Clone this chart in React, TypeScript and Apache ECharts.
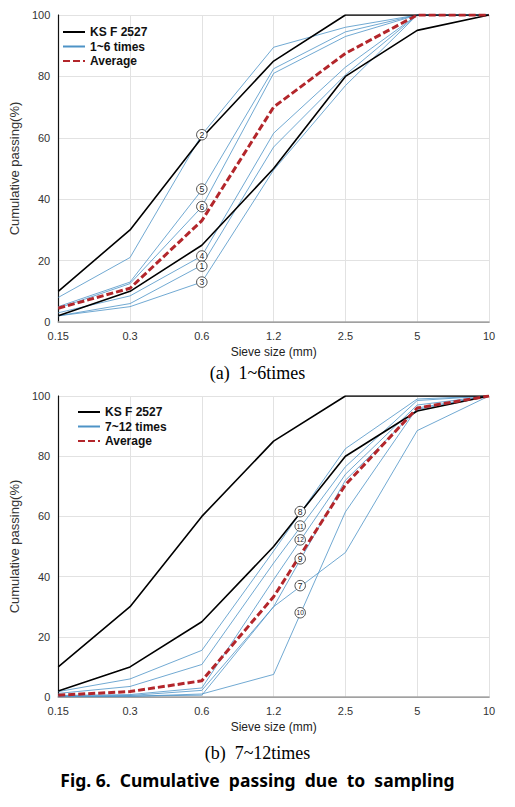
import React, { useEffect, useRef } from 'react';
import * as echarts from 'echarts';

// ---- data ----
const sieveSizes = ['0.15', '0.3', '0.6', '1.2', '2.5', '5', '10'];
const ksLower = [2, 10, 25, 50, 80, 95, 100];
const ksUpper = [10, 30, 60, 85, 100, 100, 100];

// (a) samples 1~6 (order: ②, ⑤, ⑥, ④, ①, ③)
const sample2 = [8, 21, 61, 89.5, 96, 100, 100];
const sample5 = [5, 13, 43, 82.5, 94.5, 100, 100];
const sample6 = [4.5, 12.5, 37.5, 81, 93, 100, 100];
const sample4 = [3, 8.5, 21.5, 61.5, 83, 100, 100];
const sample1 = [2, 6, 18.5, 57, 80.5, 100, 100];
const sample3 = [2, 5, 13, 49.5, 77, 100, 100];
const topAverage = [4.5, 11, 33, 70, 87.5, 100, 100];

// (b) samples 7~12
const sample8 = [1.8, 6, 15.5, 48.5, 82.5, 99, 100];
const sample11 = [1.2, 3.5, 10.8, 44.5, 76.5, 98.5, 100];
const sample12 = [0.5, 0.8, 3, 39, 74, 97, 100];
const sample9 = [0.3, 0.5, 2.2, 30, 72, 95.5, 100];
const sample7 = [0.2, 0.3, 0.6, 30, 48, 88.5, 100];
const sample10 = [0.1, 0.2, 1, 7.5, 61.5, 96, 100];
const bottomAverage = [0.6, 1.8, 5.4, 33.3, 70.5, 96, 100];

// circled tags (position in axis units)
const topTagNums = ['2', '5', '6', '4', '1', '3'];
const topTagX = [2, 2, 2, 2, 2, 2];
const topTagY = [61, 43.3, 37.6, 21.5, 18.2, 13];
const bottomTagNums = ['8', '11', '12', '9', '7', '10'];
const bottomTagX = [3.37, 3.37, 3.37, 3.37, 3.37, 3.37];
const bottomTagY = [61.6, 56.8, 52.2, 45.9, 37, 28];

const topSamples = [sample2, sample5, sample6, sample4, sample1, sample3];
const bottomSamples = [sample8, sample11, sample12, sample9, sample7, sample10];

const BLUE = '#4d93c6';
const RED = '#b3262b';
const FONT = 'Liberation Sans';

const toPts = (arr: number[]) => arr.map((v, i) => [i, v]);

function lineSeries(name: string, data: number[], idx: number, style: any, z = 2) {
  return {
    type: 'line',
    name,
    xAxisIndex: idx * 2,
    yAxisIndex: idx * 2,
    data: toPts(data),
    symbol: 'none',
    showSymbol: false,
    lineStyle: style,
    itemStyle: { color: style.color },
    z,
  };
}

function tagSeries(idx: number, xs: number[], ys: number[], nums: string[]) {
  return {
    type: 'scatter',
    name: 'tags' + idx,
    xAxisIndex: idx * 2,
    yAxisIndex: idx * 2,
    symbol: 'circle',
    symbolSize: 10.5,
    z: 10,
    itemStyle: { color: '#ffffff', borderColor: '#222', borderWidth: 0.8, opacity: 1 },
    label: {
      show: true,
      position: 'inside',
      color: '#222',
      fontFamily: FONT,
      formatter: (p: any) => p.value[2],
    },
    data: xs.map((x, i) => ({
      value: [x, ys[i], nums[i]],
      label: { fontSize: nums[i].length > 1 ? 6.5 : 8.5 },
    })),
  };
}

function axesFor(idx: number) {
  const xMain = {
    type: 'value',
    gridIndex: idx,
    min: 0,
    max: 6,
    interval: 1,
    name: 'Sieve size (mm)',
    nameLocation: 'middle',
    nameGap: 24,
    nameTextStyle: { fontSize: 12, color: '#222', fontFamily: FONT },
    axisLine: { show: true, lineStyle: { color: '#8c8c8c', width: 1 } },
    axisTick: { show: false },
    axisLabel: {
      fontSize: 11,
      color: '#333',
      fontFamily: FONT,
      margin: 8,
      formatter: (v: number) => sieveSizes[v] ?? '',
    },
    splitLine: { show: true, lineStyle: { color: '#e2e2e2', width: 1 } },
  };
  const xTop = {
    type: 'value',
    gridIndex: idx,
    position: 'top',
    min: 0,
    max: 6,
    interval: 1,
    axisLine: { show: true, lineStyle: { color: '#a8a8a8', width: 1.5 } },
    axisTick: { show: false },
    axisLabel: { show: false },
    splitLine: { show: false },
  };
  const yMain = {
    type: 'value',
    gridIndex: idx,
    min: 0,
    max: 100,
    interval: 20,
    name: 'Cumulative passing(%)',
    nameLocation: 'middle',
    nameGap: 29,
    nameRotate: 90,
    nameTextStyle: { fontSize: 13, color: '#333', fontFamily: FONT },
    axisLine: { show: true, lineStyle: { color: '#8c8c8c', width: 1 } },
    axisTick: { show: false },
    axisLabel: { fontSize: 11, color: '#333', fontFamily: FONT, margin: 8 },
    splitLine: { show: true, lineStyle: { color: '#e2e2e2', width: 1 } },
  };
  const yRight = {
    type: 'value',
    gridIndex: idx,
    position: 'right',
    min: 0,
    max: 100,
    interval: 20,
    axisLine: { show: true, lineStyle: { color: '#111', width: 1.2 } },
    axisTick: { show: false },
    axisLabel: { show: false },
    splitLine: { show: false },
  };
  return { x: [xMain, xTop], y: [yMain, yRight] };
}

function buildOption() {
  const a0 = axesFor(0);
  const a1 = axesFor(1);
  const series: any[] = [];
  const blackStyle = { color: '#000', width: 1.6 };
  const blueStyle = { color: BLUE, width: 0.8 };
  const redStyle = { color: RED, width: 3, type: [7, 3] };

  series.push(lineSeries('KS F 2527', ksLower, 0, blackStyle, 3));
  series.push(lineSeries('KS F 2527', ksUpper, 0, blackStyle, 3));
  topSamples.forEach((s) => series.push(lineSeries('1~6 times', s, 0, blueStyle, 2)));
  series.push(lineSeries('Average', topAverage, 0, redStyle, 4));
  series.push(tagSeries(0, topTagX, topTagY, topTagNums));

  series.push(lineSeries('KS F 2527', ksLower, 1, blackStyle, 3));
  series.push(lineSeries('KS F 2527', ksUpper, 1, blackStyle, 3));
  bottomSamples.forEach((s) => series.push(lineSeries('7~12 times', s, 1, blueStyle, 2)));
  series.push(lineSeries('Average', bottomAverage, 1, redStyle, 4));
  series.push(tagSeries(1, bottomTagX, bottomTagY, bottomTagNums));

  const legendBase = {
    orient: 'vertical',
    itemWidth: 22,
    itemHeight: 14,
    itemGap: 2.5,
    itemStyle: { opacity: 0 },
    textStyle: { fontSize: 12, fontWeight: 'bold', color: '#111', fontFamily: FONT },
    selectedMode: false,
  };

  return {
    animation: false,
    backgroundColor: '#ffffff',
    textStyle: { fontFamily: FONT },
    grid: [
      { left: 48, top: 15, width: 441, height: 307 },
      { left: 50, top: 396, width: 439, height: 301 },
    ],
    xAxis: [...a0.x, ...a1.x],
    yAxis: [...a0.y, ...a1.y],
    legend: [
      { ...legendBase, data: ['KS F 2527', '1~6 times', 'Average'], left: 57, top: 21 },
      { ...legendBase, data: ['KS F 2527', '7~12 times', 'Average'], left: 72, top: 401 },
    ],
    series,
    graphic: [
      {
        type: 'text',
        left: 'center',
        top: 364,
        style: {
          text: '(a)  1~6times',
          fontFamily: 'Liberation Serif',
          fontSize: 18,
          fill: '#000',
        },
      },
      {
        type: 'text',
        left: 'center',
        top: 744,
        style: {
          text: '(b)  7~12times',
          fontFamily: 'Liberation Serif',
          fontSize: 18,
          fill: '#000',
        },
      },
      {
        type: 'text',
        left: 'center',
        top: 771,
        style: {
          text: 'Fig. 6.  Cumulative  passing  due  to  sampling',
          fontFamily: 'Noto Sans',
          fontWeight: 'bold',
          fontSize: 17.5,
          fill: '#000',
        },
      },
    ],
  };
}

export default function App() {
  const ref = useRef<HTMLDivElement>(null);
  useEffect(() => {
    if (!ref.current) return;
    const chart = echarts.init(ref.current, undefined, { renderer: 'svg' });
    chart.setOption(buildOption() as any);
    return () => chart.dispose();
  }, []);
  return (
    <div
      ref={ref}
      style={{ position: 'absolute', left: 0, top: 0, width: 515, height: 807, background: '#fff' }}
    />
  );
}
